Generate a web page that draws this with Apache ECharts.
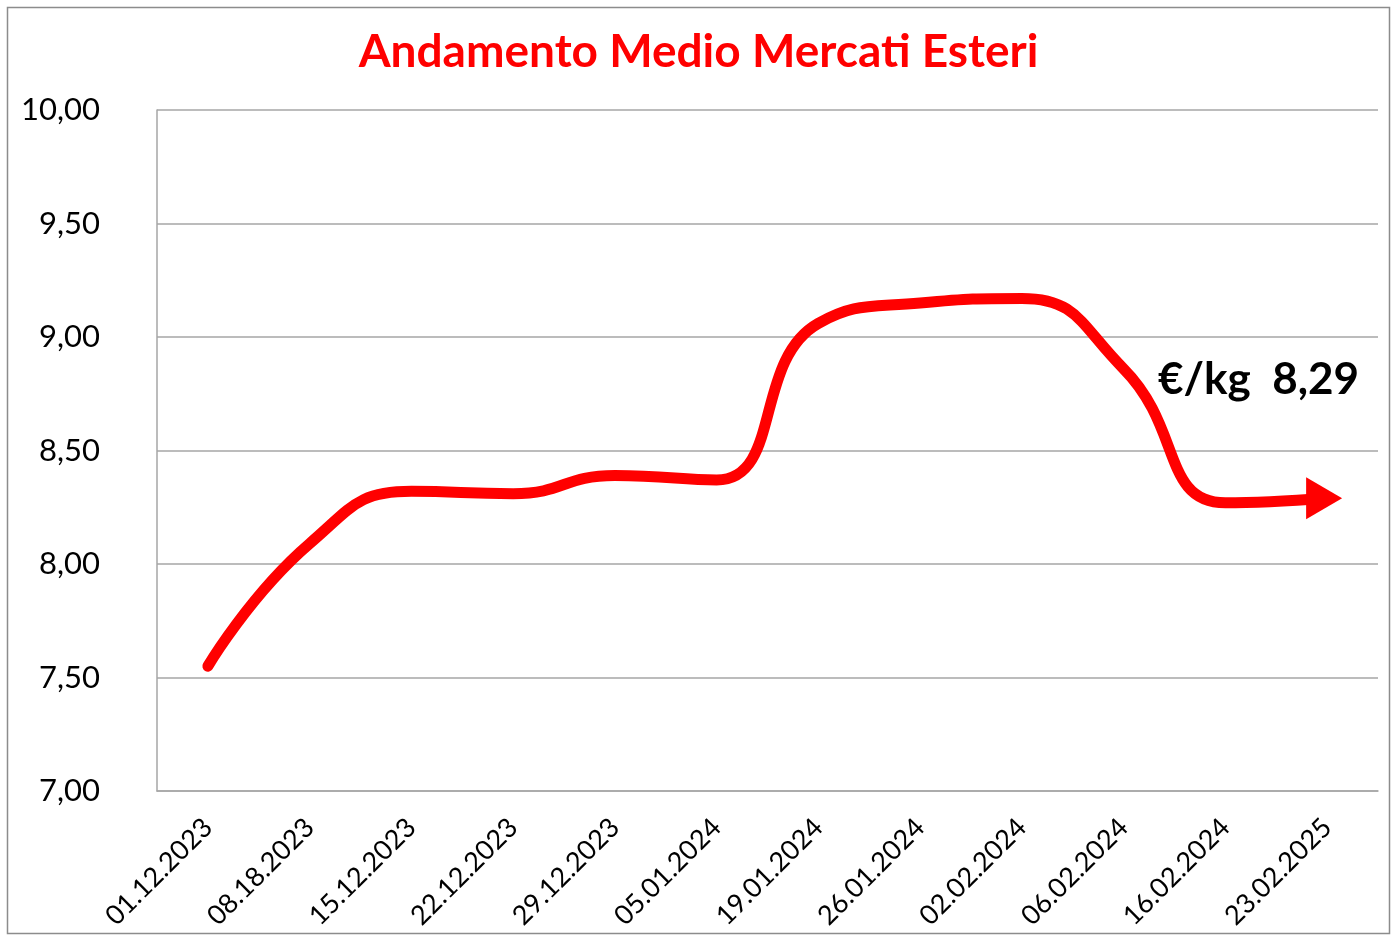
<!DOCTYPE html>
<html lang="it">
<head>
<meta charset="UTF-8">
<title>Andamento Medio Mercati Esteri</title>
<style>
  html, body { margin: 0; padding: 0; background: #fff; }
  #chart { width: 1397px; height: 939px; }
</style>
</head>
<body>
<div id="chart"></div>
<script src="https://cdn.jsdelivr.net/npm/echarts@6/dist/echarts.min.js"></script>
<script>
// dati
var categories = ['01.12.2023', '08.18.2023', '15.12.2023', '22.12.2023', '29.12.2023', '05.01.2024',
                  '19.01.2024', '26.01.2024', '02.02.2024', '06.02.2024', '16.02.2024', '23.02.2025'];
var prezzi = [7.55, 8.09, 8.32, 8.31, 8.39, 8.37, 9.06, 9.15, 9.17, 8.86, 8.27, 8.29];
var ultimoPrezzo = '8,29';

var font = 'Lato, "Open Sans", sans-serif';

// l'ultimo punto porta la freccia
var serieData = prezzi.map(function (v, i) {
  if (i === prezzi.length - 1) {
    return {
      value: v,
      symbol: 'triangle',
      symbolSize: [42, 36],
      symbolRotate: -90,
      symbolOffset: [-3, 0],
      itemStyle: { color: '#ff0000' }
    };
  }
  return { value: v, symbol: 'none' };
});

var myChart = echarts.init(document.getElementById('chart'));
var option = {
  backgroundColor: '#ffffff',
  animation: false,
  title: {
    text: 'Andamento Medio Mercati Esteri',
    left: 'center',
    top: 24,
    textStyle: { color: '#ff0000', fontSize: 46, fontWeight: 'bold', fontFamily: font }
  },
  grid: { left: 157, right: 19, top: 110, bottom: 148 },
  xAxis: {
    type: 'category',
    data: categories,
    boundaryGap: true,
    axisLine: { lineStyle: { color: '#a6a6a6', width: 1.5 } },
    axisTick: { show: false },
    axisLabel: {
      rotate: 45,
      interval: 0,
      margin: 32,
      color: '#000',
      fontSize: 27,
      fontFamily: font
    }
  },
  yAxis: {
    type: 'value',
    min: 7,
    max: 10,
    interval: 0.5,
    axisLine: { show: true, lineStyle: { color: '#a6a6a6', width: 1.5 } },
    axisTick: { show: false },
    splitLine: { lineStyle: { color: '#a6a6a6', width: 1.5 } },
    axisLabel: {
      margin: 57,
      color: '#000',
      fontSize: 31,
      fontFamily: font,
      formatter: function (v) { return v.toFixed(2).replace('.', ','); }
    }
  },
  series: [{
    type: 'line',
    data: serieData,
    smooth: 0.5,
    showSymbol: true,
    silent: true,
    lineStyle: { color: '#ff0000', width: 11, cap: 'round', join: 'round' },
    itemStyle: { color: '#ff0000' }
  }],
  graphic: [
    {
      type: 'rect',
      shape: { x: 7.5, y: 7.5, width: 1382, height: 926 },
      style: { fill: null, stroke: '#8c8c8c', lineWidth: 1.5 },
      silent: true
    },
    {
      type: 'text',
      left: 1158,
      top: 358,
      style: {
        text: '€/kg  ' + ultimoPrezzo,
        fill: '#000',
        font: 'bold 44px ' + font
      }
    }
  ]
};
myChart.setOption(option);
</script>
</body>
</html>
